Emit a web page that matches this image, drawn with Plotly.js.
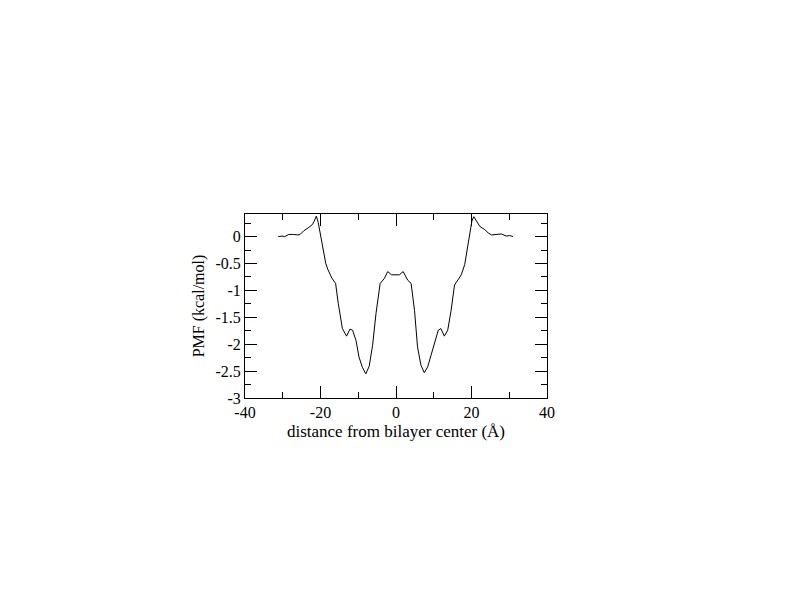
<!DOCTYPE html>
<html>
<head>
<meta charset="utf-8">
<script src="https://cdn.plot.ly/plotly-3.0.1.min.js"></script>
<style>html,body{margin:0;padding:0;background:#fff;}</style>
</head>
<body>
<div id="chart" style="width:792px;height:612px;"></div>
<script>
var distance = [-31.2,-30.2,-29.5,-28.4,-27.1,-26.0,-25.4,-24.4,-23.3,-22.2,-21.7,-21.1,-20.6,-19.5,-18.6,-18.0,-17.0,-16.0,-15.3,-14.2,-13.1,-12.2,-11.5,-10.6,-9.8,-8.9,-8.0,-7.1,-6.2,-5.3,-4.2,-3.1,-2.2,-1.2,0.0,0.9,1.9,3.1,4.0,4.9,5.7,6.6,7.5,8.4,9.3,10.2,11.2,11.9,12.8,13.7,14.6,15.5,16.0,17.3,18.2,19.0,20.1,20.6,21.2,22.2,23.5,24.4,25.3,26.6,27.9,29.2,30.1,31.0];
var pmf = [0.00,0.01,0.00,0.04,0.04,0.03,0.04,0.11,0.16,0.22,0.28,0.38,0.26,-0.18,-0.50,-0.62,-0.77,-0.87,-1.24,-1.71,-1.85,-1.72,-1.74,-1.93,-2.24,-2.43,-2.55,-2.41,-2.02,-1.43,-0.87,-0.78,-0.65,-0.71,-0.71,-0.71,-0.65,-0.81,-0.87,-1.37,-2.05,-2.39,-2.53,-2.42,-2.20,-1.96,-1.74,-1.71,-1.85,-1.74,-1.37,-0.90,-0.84,-0.71,-0.52,-0.15,0.29,0.37,0.30,0.19,0.13,0.07,0.03,0.04,0.05,0.01,0.02,0.00];
var xTickVals = [-40,-20,0,20,40];
var xTickText = ["-40","-20","0","20","40"];
var yTickVals = [0,-0.5,-1,-1.5,-2,-2.5,-3];
var yTickText = ["0","-0.5","-1","-1.5","-2","-2.5","-3"];

var font = {family: "Liberation Serif, Times New Roman, serif", size: 16, color: "#000"};

var trace = {
  x: distance, y: pmf, type: "scatter", mode: "lines",
  line: {color: "#000", width: 1}, showlegend: false, hoverinfo: "skip"
};

var axisCommon = {
  showline: true, linecolor: "#000", linewidth: 1, mirror: "allticks",
  ticks: "inside", ticklen: 12, tickwidth: 1, tickcolor: "#000",
  showgrid: false, zeroline: false, tickfont: font
};

var layout = {
  width: 792, height: 612,
  margin: {l: 245, r: 245, t: 214, b: 214, pad: 0},
  paper_bgcolor: "#fff", plot_bgcolor: "#fff",
  font: font,
  xaxis: Object.assign({}, axisCommon, {
    range: [-40, 40], tickmode: "array", tickvals: xTickVals, ticktext: xTickText,
    minor: {tickmode: "linear", tick0: 0, dtick: 10, ticks: "inside", ticklen: 6, tickwidth: 1, tickcolor: "#000", showgrid: false},
    title: {text: "distance from bilayer center (Å)", font: {family: font.family, size: 17, color: "#000"}, standoff: 4}
  }),
  yaxis: Object.assign({}, axisCommon, {
    range: [-3, 0.42], tickmode: "array", tickvals: yTickVals, ticktext: yTickText,
    minor: {tickmode: "linear", tick0: 0, dtick: 0.25, ticks: "inside", ticklen: 6, tickwidth: 1, tickcolor: "#000", showgrid: false},
    title: {text: "PMF (kcal/mol)", font: {family: font.family, size: 16, color: "#000"}, standoff: 6}
  })
};

Plotly.newPlot("chart", [trace], layout, {staticPlot: true, displayModeBar: false});
</script>
</body>
</html>
